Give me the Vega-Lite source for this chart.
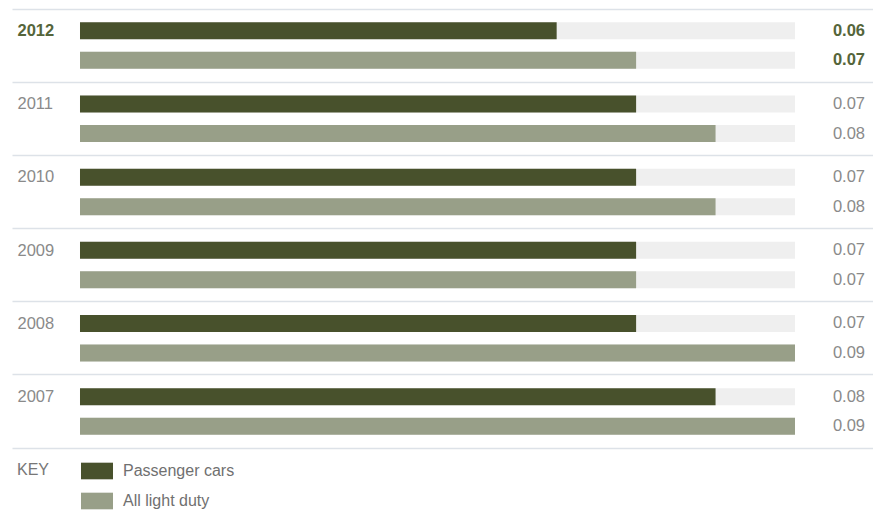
{
  "$schema": "https://vega.github.io/schema/vega-lite/v6.json",
  "width": 861,
  "height": 439,
  "autosize": {"type": "none"},
  "padding": {"left": 12, "top": 9, "right": 0, "bottom": 69},
  "config": {
    "view": {"stroke": null},
    "font": "Liberation Sans"
  },
  "data": {
    "values": [
      {"year": "2012", "series": "Passenger cars", "value": 0.06},
      {"year": "2012", "series": "All light duty", "value": 0.07},
      {"year": "2011", "series": "Passenger cars", "value": 0.07},
      {"year": "2011", "series": "All light duty", "value": 0.08},
      {"year": "2010", "series": "Passenger cars", "value": 0.07},
      {"year": "2010", "series": "All light duty", "value": 0.08},
      {"year": "2009", "series": "Passenger cars", "value": 0.07},
      {"year": "2009", "series": "All light duty", "value": 0.07},
      {"year": "2008", "series": "Passenger cars", "value": 0.07},
      {"year": "2008", "series": "All light duty", "value": 0.09},
      {"year": "2007", "series": "Passenger cars", "value": 0.08},
      {"year": "2007", "series": "All light duty", "value": 0.09}
    ]
  },
  "encoding": {
    "y": {
      "field": "year",
      "type": "nominal",
      "sort": "descending",
      "scale": {"paddingInner": 0, "paddingOuter": 0},
      "axis": {
        "title": null,
        "orient": "left",
        "offset": -5,
        "domain": false,
        "ticks": false,
        "tickSize": 0,
        "labelPadding": 0,
        "labelAlign": "left",
        "labelBaseline": "middle",
        "bandPosition": 0,
        "labelOffset": -14.5,
        "labelFontSize": 16.5,
        "labelColor": {"condition": {"test": "datum.value === '2012'", "value": "#55653a"}, "value": "#8a8a8a"},
        "labelFontWeight": {"condition": {"test": "datum.value === '2012'", "value": "bold"}, "value": "normal"},
        "grid": true,
        "gridColor": "#dde2e8",
        "gridWidth": 1.5
      }
    },
    "yOffset": {
      "field": "series",
      "type": "nominal",
      "sort": ["Passenger cars", "All light duty"],
      "scale": {"paddingInner": 0.424, "paddingOuter": 0.452}
    }
  },
  "layer": [
    {
      "mark": {"type": "bar", "color": "#efefef"},
      "encoding": {
        "x": {
          "datum": 0.09,
          "type": "quantitative",
          "scale": {"domain": [-0.0085594, 0.0998182], "nice": false, "zero": false},
          "axis": {
            "title": null,
            "orient": "bottom",
            "labels": false,
            "ticks": false,
            "grid": false,
            "domain": true,
            "domainColor": "#dde2e8",
            "domainWidth": 1.5
          }
        },
        "x2": {"datum": 0}
      }
    },
    {
      "mark": {"type": "bar"},
      "encoding": {
        "x": {"field": "value", "type": "quantitative"},
        "x2": {"datum": 0},
        "color": {
          "field": "series",
          "type": "nominal",
          "sort": ["Passenger cars", "All light duty"],
          "scale": {"domain": ["Passenger cars", "All light duty"], "range": ["#48512c", "#989f88"]},
          "legend": {
            "title": "KEY",
            "orient": "none",
            "legendX": 5,
            "legendY": 446,
            "direction": "vertical",
            "titleOrient": "left",
            "titleAnchor": "start",
            "titleFontSize": 16,
            "titleFontWeight": "normal",
            "titleColor": "#777777",
            "titlePadding": 31,
            "titleBaseline": "line-top",
            "titleLineHeight": 31,
            "symbolType": "M-1,-0.52H1V0.52H-1Z",
            "symbolSize": 1024,
            "symbolStrokeWidth": 0,
            "symbolOpacity": 1,
            "labelFontSize": 16,
            "labelColor": "#707070",
            "labelOffset": 10,
            "rowPadding": 5,
            "padding": 0
          }
        }
      }
    },
    {
      "transform": [{"filter": "datum.year !== '2012'"}],
      "mark": {"type": "text", "align": "right", "baseline": "middle", "dx": -8, "fontSize": 16.5, "color": "#8a8a8a"},
      "encoding": {
        "x": {"datum": 0.0998182, "type": "quantitative"},
        "text": {"field": "value", "type": "quantitative", "format": ".2f"}
      }
    },
    {
      "transform": [{"filter": "datum.year === '2012'"}],
      "mark": {"type": "text", "align": "right", "baseline": "middle", "dx": -8, "fontSize": 16.5, "fontWeight": "bold", "color": "#55653a"},
      "encoding": {
        "x": {"datum": 0.0998182, "type": "quantitative"},
        "text": {"field": "value", "type": "quantitative", "format": ".2f"}
      }
    }
  ]
}
